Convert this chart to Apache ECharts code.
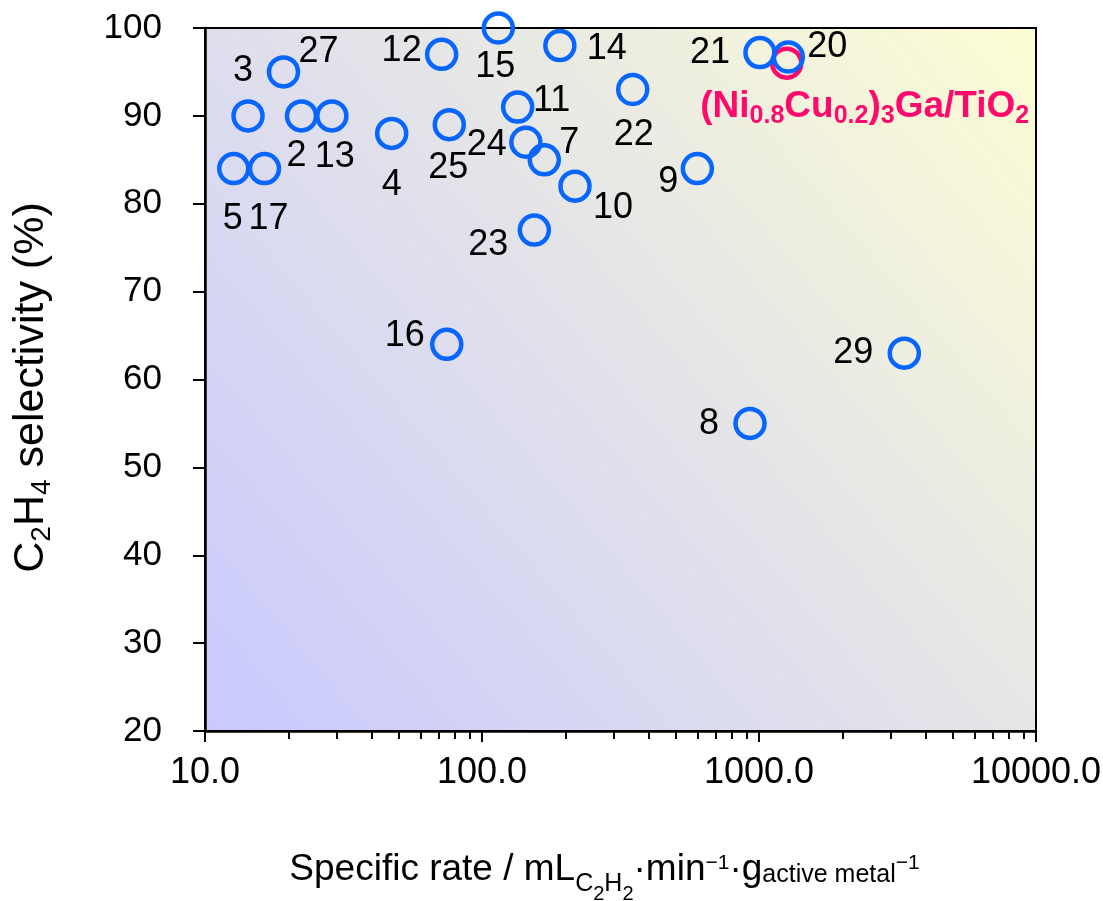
<!DOCTYPE html>
<html><head><meta charset="utf-8">
<script src="https://cdn.jsdelivr.net/npm/echarts@6/dist/echarts.min.js"></script>
<style>html,body{margin:0;padding:0;background:#fff}#c{width:1103px;height:901px}</style>
</head><body><div id="c"></div>
<script>
// ---- data ----
const labels = ['3','27','2','13','5','17','4','12','25','16','15','11','24','23','7','14','10','22','9','8','21','20','29'];
const rates = [14.3,19.2,22.3,28.7,12.7,16.4,47.2,71.5,76.2,74.6,114.5,134.5,144,154.5,167.8,191,216.6,350,599,928,1008,1276,3346];
const selectivity = [90,95,90,90,84,84,88,97,89,64,100,91,87,77,85,98,82,93,84,55,97.2,96.7,63];
const thisWorkRate = [1259];
const thisWorkSel = [96];
const xMajorTicks = [10,100,1000,10000];
const xMinorTicks = [20,30,40,50,60,70,80,90,200,300,400,500,600,700,800,900,2000,3000,4000,5000,6000,7000,8000,9000];
const yMin = 20, yMax = 100, yStep = 10;

// ---- styles ----
const FONT = 'Liberation Sans, Arial, sans-serif';
const BLUE = '#0866ff';
const PINK = '#ff0a6c';
const labelOffset = {
  '3':[-5,-45],'27':[35,-20],'2':[-5,40],'13':[3,41],'5':[-1,50],'17':[4,50],
  '4':[0,52],'25':[-1,43],'12':[-40,-3],'15':[-3,39],'14':[47,4],'11':[34,-6],
  '24':[-39,3],'7':[25,-17],'10':[38,22],'23':[-46,15],'22':[1,46],'9':[-29,13],
  '16':[-42,-8],'29':[-51,0],'8':[-41,1],'21':[-50,0],'20':[39,-10]
};
const gridBox = {left:205, top:28, width:831, height:703, outerBoundsMode:'none', containLabel:false};

const chart = echarts.init(document.getElementById('c'), null, {renderer:'canvas'});
chart.setOption({
  animation:false,
  backgroundColor:'#fff',
  grid:[
    Object.assign({show:true, borderColor:'#000', borderWidth:2,
      backgroundColor:new echarts.graphic.LinearGradient(0,1,1,0,[
        {offset:0,color:'#c9c9ff'},{offset:0.5,color:'#e2e2ea'},{offset:1,color:'#fdfdd4'}])}, gridBox),
    Object.assign({show:false}, gridBox)
  ],
  xAxis:[{
    type:'log', logBase:10, min:10, max:10000, gridIndex:0,
    axisLine:{onZero:false, lineStyle:{color:'#000', width:2.5}},
    axisTick:{length:11, customValues:xMajorTicks, lineStyle:{color:'#000', width:2}},
    axisLabel:{customValues:xMajorTicks, formatter:v=>Number(v).toFixed(1), fontSize:36, margin:24, color:'#000', fontFamily:FONT},
    splitLine:{show:false}, minorTick:{show:false},
    name:'{n|Specific rate / mL}{s|C}{ss|2}{s|H}{ss|2}{n|·min}{p|−1}{n|·g}{a|active metal}{p|−1}',
    nameLocation:'middle', nameGap:136,
    nameTextStyle:{padding:[0,32,0,0], rich:{
      n:{fontSize:37, lineHeight:37, fontFamily:FONT, color:'#000', verticalAlign:'bottom', padding:[0,0,16,0]},
      s:{fontSize:25, lineHeight:25, fontFamily:FONT, color:'#000', verticalAlign:'bottom', padding:[0,0,7,0]},
      ss:{fontSize:20, lineHeight:20, fontFamily:FONT, color:'#000', verticalAlign:'bottom', padding:[0,0,0,0]},
      p:{fontSize:21, lineHeight:21, fontFamily:FONT, color:'#000', verticalAlign:'bottom', padding:[0,0,30,0]},
      a:{fontSize:25, lineHeight:25, fontFamily:FONT, color:'#000', verticalAlign:'bottom', padding:[0,0,16,0]}
    }}
  },{
    type:'log', logBase:10, min:10, max:10000, gridIndex:1,
    axisLine:{show:false},
    axisTick:{length:8, customValues:xMinorTicks, lineStyle:{color:'#000', width:2}},
    axisLabel:{show:false}, splitLine:{show:false}
  }],
  yAxis:[{
    type:'value', min:yMin, max:yMax, interval:yStep, gridIndex:0,
    axisLine:{show:true, lineStyle:{color:'#000', width:2.5}},
    axisTick:{show:true, length:12, lineStyle:{color:'#000', width:2}},
    axisLabel:{fontSize:35, margin:43, color:'#000', fontFamily:FONT},
    splitLine:{show:false},
    name:'{n|C}{s|2}{n|H}{s|4}{n| selectivity (%)}',
    nameLocation:'middle', nameRotate:90, nameGap:149,
    nameTextStyle:{padding:[0,16,0,0], rich:{
      n:{fontSize:43, lineHeight:43, fontFamily:FONT, color:'#000', verticalAlign:'bottom', padding:[0,0,3,0]},
      s:{fontSize:28, lineHeight:28, fontFamily:FONT, color:'#000', verticalAlign:'bottom', padding:[0,0,0,0]}
    }}
  },{
    type:'value', min:yMin, max:yMax, gridIndex:1, show:false
  }],
  series:[{
    type:'scatter', xAxisIndex:0, yAxisIndex:0,
    symbol:'circle', symbolSize:29,
    itemStyle:{color:'rgba(0,0,0,0)', borderColor:PINK, borderWidth:4.5, opacity:1},
    data:thisWorkRate.map((r,i)=>[r, thisWorkSel[i]]),
    label:{show:true, position:'inside', offset:[78,47],
      formatter:()=>'{b|(Ni}{bs|0.8}{b|Cu}{bs|0.2}{b|)}{bs|3}{b|Ga/TiO}{bs|2}',
      rich:{
        b:{fontSize:37, lineHeight:37, fontWeight:'bold', fontFamily:FONT, color:PINK, verticalAlign:'bottom', padding:[0,0,3,0]},
        bs:{fontSize:25, lineHeight:25, fontWeight:'bold', fontFamily:FONT, color:PINK, verticalAlign:'bottom', padding:[0,0,0,0]}
      }},
    z:2
  },{
    type:'scatter', xAxisIndex:0, yAxisIndex:0,
    symbol:'circle', symbolSize:29,
    itemStyle:{color:'rgba(0,0,0,0)', borderColor:BLUE, borderWidth:4.5, opacity:1},
    data:rates.map((r,i)=>({value:[r, selectivity[i]], label:{offset:labelOffset[labels[i]]}})),
    label:{show:true, position:'inside', fontSize:36, color:'#000', fontFamily:FONT,
      formatter:p=>labels[p.dataIndex]},
    z:3
  }]
});
</script></body></html>
